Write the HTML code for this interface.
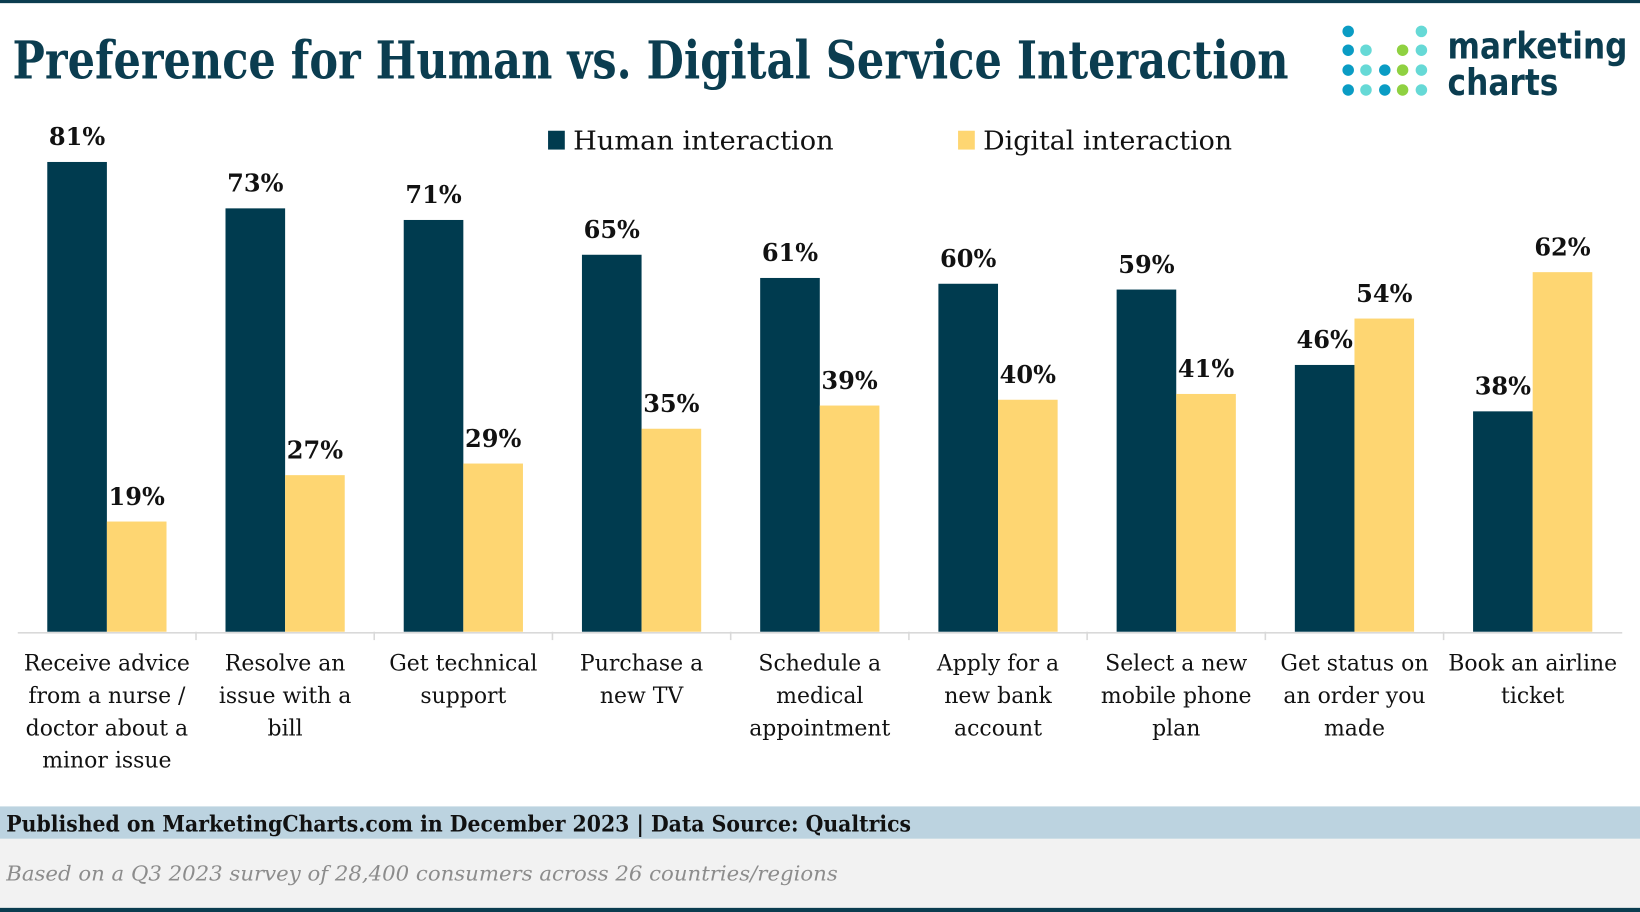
<!DOCTYPE html>
<html><head><meta charset="utf-8"><style>
html,body{margin:0;padding:0;background:#fff;overflow:hidden}
#wrap{width:1568px;height:872px;transform:scale(1.04592);transform-origin:0 0;position:relative}
svg text{font-family:"DejaVu Serif","Liberation Serif",serif}
</style></head><body>
<div id="wrap">
<svg id="chart" width="1568" height="872" viewBox="0 0 1568 872">
<rect x="0" y="0" width="1568" height="3" fill="#0b3d50"/>
<text x="12" y="75" font-size="50" font-weight="bold" fill="#0b3d50" textLength="1220" lengthAdjust="spacingAndGlyphs">Preference for Human vs. Digital Service Interaction</text>
<g id="logo"></g>
<text x="1384" y="56" font-size="35" font-weight="bold" fill="#0b3d50" style="font-family:'DejaVu Sans',sans-serif" textLength="172" lengthAdjust="spacingAndGlyphs">marketing</text>
<text x="1384" y="91" font-size="35" font-weight="bold" fill="#0b3d50" style="font-family:'DejaVu Sans',sans-serif" textLength="106" lengthAdjust="spacingAndGlyphs">charts</text>
<rect x="524" y="125" width="16" height="18" fill="#003b4f"/>
<text x="548" y="143" font-size="25" fill="#111" textLength="249" lengthAdjust="spacingAndGlyphs">Human interaction</text>
<rect x="916" y="125" width="16" height="18" fill="#fed672"/>
<text x="940" y="143" font-size="25" fill="#111" textLength="238" lengthAdjust="spacingAndGlyphs">Digital interaction</text>
<g id="bars"></g>
<line x1="17" y1="605" x2="1551" y2="605" stroke="#d9d9d9" stroke-width="1.5"/>
<rect x="0" y="771" width="1568" height="31" fill="#bcd3e0"/>
<text x="6" y="795" font-size="21" font-weight="bold" fill="#111" textLength="865" lengthAdjust="spacingAndGlyphs">Published on MarketingCharts.com in December 2023 | Data Source: Qualtrics</text>
<rect x="0" y="802" width="1568" height="66" fill="#f2f2f2"/>
<text x="6" y="842" font-size="20" font-style="italic" fill="#8c8c8c" textLength="795" lengthAdjust="spacingAndGlyphs">Based on a Q3 2023 survey of 28,400 consumers across 26 countries/regions</text>
<rect x="0" y="868" width="1568" height="4" fill="#0b3d50"/>
</svg>
</div>
<script>
const categories=[["Receive advice","from a nurse /","doctor about a","minor issue"],["Resolve an","issue with a","bill"],["Get technical","support"],["Purchase a","new TV"],["Schedule a","medical","appointment"],["Apply for a","new bank","account"],["Select a new","mobile phone","plan"],["Get status on","an order you","made"],["Book an airline","ticket"]];
const human=[81,73,71,65,61,60,59,46,38];
const digital=[19,27,29,35,39,40,41,54,62];

const NS="http://www.w3.org/2000/svg";
const g=document.getElementById('bars');
const x0=17,gw=170.4,base=604,pp=5.545,bw=57;
const yS=v=>base-v*pp;
function mk(t,a){const e=document.createElementNS(NS,t);for(const k in a)e.setAttribute(k,a[k]);return e;}
categories.forEach((c,i)=>{
  const gx=x0+i*gw,cx=gx+gw/2;
  [[human[i],cx-bw,'#003b4f','human'],[digital[i],cx,'#fed672','digital']].forEach(([v,x,col,s])=>{
    const r=mk('rect',{x:x,y:yS(v),width:bw,height:v*pp,fill:col});
    
    
    g.appendChild(r);
    const t=mk('text',{x:x+bw/2,y:yS(v)-16,'font-size':23,'font-weight':'bold','text-anchor':'middle',fill:'#111'});
    t.textContent=v+'%';
    
    
    g.appendChild(t);
  });
  if(i>0){const l=mk('line',{x1:gx,y1:604,x2:gx,y2:612,stroke:'#d9d9d9','stroke-width':1.5});
    
    
    g.appendChild(l);}
  c.forEach((ln,j)=>{
    const t=mk('text',{x:cx,y:641+j*31,'font-size':21,'text-anchor':'middle',fill:'#111'});
    t.textContent=ln;
    
    
    g.appendChild(t);
  });
});
const logo=document.getElementById('logo');
const cols=[1289,1306,1324,1341,1359],rows=[30,48,67,86];
const B='#0a9cc4',T='#66d9d6',G='#8fd141';
const pat=[[B,null,null,null,T],[B,T,null,G,T],[B,T,B,G,T],[B,T,B,G,T]];
pat.forEach((r,ri)=>r.forEach((c,ci)=>{if(!c)return;
  const d=mk('circle',{cx:cols[ci],cy:rows[ri],r:5.5,fill:c});
  
  
  logo.appendChild(d);}));
</script>
</body></html>
